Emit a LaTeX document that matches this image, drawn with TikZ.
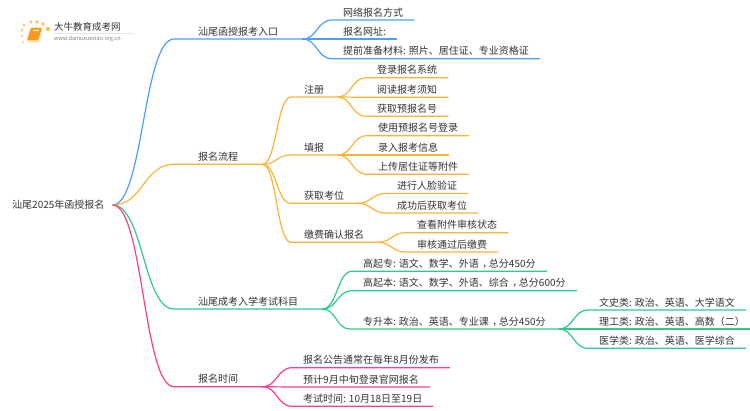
\documentclass[tikz,border=0pt]{standalone}
\usepackage{fontspec}
\setmainfont{Noto Sans CJK SC}
\usepackage{xcolor}
\usetikzlibrary{calc}
\definecolor{entryblue}{HTML}{4A9FFF}
\definecolor{flowamber}{HTML}{FBB437}
\definecolor{examgreen}{HTML}{2FCB8B}
\definecolor{timepink}{HTML}{FF3D92}
\definecolor{logoorange}{HTML}{F79A1E}
\definecolor{inkgrey}{HTML}{333333}
\newcommand{\cma}{\kern3.5pt，\kern-3.5pt}
\tikzset{
    rootbox/.style={anchor=west, inner xsep=8pt, inner ysep=1.7pt, text height=8pt, text depth=2pt, font=\fontsize{10}{12}\selectfont, text=inkgrey},
    topicbox/.style={rootbox, anchor=south west, inner xsep=24pt},
    branchbox/.style={topicbox, inner xsep=13pt},
    leafbox/.style={topicbox, inner xsep=11pt},
    link/.style={line width=1.2pt, to path={.. controls ($(\tikztostart)!0.5!(\tikztostart -| \tikztotarget)$) and ($(\tikztotarget)!0.5!(\tikztotarget -| \tikztostart)$) .. (\tikztotarget)}}
}
\begin{document}
\begin{tikzpicture}[x=1pt, y=-1pt]
    \useasboundingbox (0,0) rectangle (750,410);
    % logo
    \foreach \px/\py/\r in {23/42/1.0,22/36/1.1,22/30/1.3,24/25/1.4,31/22/1.7,37/22/1.8,43/24/1.9,48/29/2.2} {
        \fill [flowamber!85] (\px,\py) circle (\r);
    }
    \fill [logoorange, rounded corners=1pt] (31,27.5) -- (42,27.5) -- (38.5,40) -- (27,40) -- cycle;
    \fill [flowamber!50, rounded corners=.5pt] (27,40) -- (38.5,40) -- (42,27.5) -- (42.5,29) -- (39,42) -- (28,42) -- cycle;
    \draw [white, line width=.4pt] (32.5,30.5) -- (39,30.5);
    \draw [gray!20, line width=.5pt] (54,33.5) -- (133,33.5);
    \node [anchor=west, inner sep=0pt, font=\fontsize{9.5}{11}\selectfont, text=inkgrey] (logoname) at (54,27) {大牛教育成考网};
    \node [anchor=west, inner sep=0pt, font=\fontsize{5.5}{6}\selectfont, text=gray] (logourl) at (54,38.5) {www.daniuxuexiao.org.cn};

    \node [rootbox] (root) at (4,205) {汕尾2025年函授报名};

    \node [topicbox] (entry) at (174,39) {汕尾函授报考入口};
    \node [leafbox] (online) at (332,20) {网络报名方式};
    \node [leafbox] (site) at (332,39) {报名网址:};
    \node [leafbox] (docs) at (332,58.7) {提前准备材料: 照片、居住证、专业资格证};

    \node [topicbox] (flow) at (174,164.3) {报名流程};
    \node [branchbox] (signup) at (291,97) {注册};
    \node [leafbox] (signupa) at (366,77.7) {登录报名系统};
    \node [leafbox] (signupb) at (366,97.3) {阅读报考须知};
    \node [leafbox] (signupc) at (366,116.3) {获取预报名号};
    \node [branchbox] (fill) at (291,155) {填报};
    \node [leafbox] (filla) at (367,135.7) {使用预报名号登录};
    \node [leafbox] (fillb) at (367,155) {录入报考信息};
    \node [leafbox] (fillc) at (367,174.3) {上传居住证等附件};
    \node [branchbox] (seat) at (291,203.3) {获取考位};
    \node [leafbox] (seata) at (386,193.5) {进行人脸验证};
    \node [leafbox] (seatb) at (386,213) {成功后获取考位};
    \node [branchbox] (pay) at (291,242.3) {缴费确认报名};
    \node [leafbox] (paya) at (406,232.7) {查看附件审核状态};
    \node [leafbox] (payb) at (406,252) {审核通过后缴费};

    \node [topicbox] (exam) at (174,309) {汕尾成考入学考试科目};
    \node [leafbox] (gqz) at (352,271.3) {高起专: 语文、数学、外语\cma 总分450分};
    \node [leafbox] (gqb) at (352,290.7) {高起本: 语文、数学、外语、综合\cma 总分600分};
    \node [branchbox] (zsb) at (350,329) {专升本: 政治、英语、专业课\cma 总分450分};
    \node [leafbox] (wen) at (588,310) {文史类: 政治、英语、大学语文};
    \node [leafbox] (li) at (588,329) {理工类: 政治、英语、高数（二）};
    \node [leafbox] (yi) at (588,348.3) {医学类: 政治、英语、医学综合};

    \node [topicbox] (time) at (174,386.7) {报名时间};
    \node [leafbox] (notice) at (292,367.7) {报名公告通常在每年8月份发布};
    \node [leafbox] (login) at (292,387) {预计9月中旬登录官网报名};
    \node [leafbox] (date) at (292,406.3) {考试时间: 10月18日至19日};

    \draw [link, entryblue] (root.east) to (entry.south west) -- (entry.south east);
    \draw [link, entryblue] (entry.south east) to (online.south west) -- (online.south east);
    \draw [link, entryblue] (entry.south east) to (site.south west) -- (site.south east);
    \draw [link, entryblue] (entry.south east) to (docs.south west) -- (docs.south east);

    \draw [link, flowamber] (root.east) to (flow.south west) -- (flow.south east);
    \draw [link, flowamber] (flow.south east) to (signup.south west) -- (signup.south east);
    \draw [link, flowamber] (signup.south east) to (signupa.south west) -- (signupa.south east);
    \draw [link, flowamber] (signup.south east) to (signupb.south west) -- (signupb.south east);
    \draw [link, flowamber] (signup.south east) to (signupc.south west) -- (signupc.south east);
    \draw [link, flowamber] (flow.south east) to (fill.south west) -- (fill.south east);
    \draw [link, flowamber] (fill.south east) to (filla.south west) -- (filla.south east);
    \draw [link, flowamber] (fill.south east) to (fillb.south west) -- (fillb.south east);
    \draw [link, flowamber] (fill.south east) to (fillc.south west) -- (fillc.south east);
    \draw [link, flowamber] (flow.south east) to (seat.south west) -- (seat.south east);
    \draw [link, flowamber] (seat.south east) to (seata.south west) -- (seata.south east);
    \draw [link, flowamber] (seat.south east) to (seatb.south west) -- (seatb.south east);
    \draw [link, flowamber] (flow.south east) to (pay.south west) -- (pay.south east);
    \draw [link, flowamber] (pay.south east) to (paya.south west) -- (paya.south east);
    \draw [link, flowamber] (pay.south east) to (payb.south west) -- (payb.south east);

    \draw [link, examgreen] (root.east) to (exam.south west) -- (exam.south east);
    \draw [link, examgreen] (exam.south east) to (gqz.south west) -- (gqz.south east);
    \draw [link, examgreen] (exam.south east) to (gqb.south west) -- (gqb.south east);
    \draw [link, examgreen] (exam.south east) to (zsb.south west) -- (zsb.south east);
    \draw [link, examgreen] (zsb.south east) to (wen.south west) -- (wen.south east);
    \draw [link, examgreen] (zsb.south east) to (li.south west) -- (li.south east);
    \draw [link, examgreen] (zsb.south east) to (yi.south west) -- (yi.south east);

    \draw [link, timepink] (root.east) to (time.south west) -- (time.south east);
    \draw [link, timepink] (time.south east) to (notice.south west) -- (notice.south east);
    \draw [link, timepink] (time.south east) to (login.south west) -- (login.south east);
    \draw [link, timepink] (time.south east) to (date.south west) -- (date.south east);
\end{tikzpicture}
\end{document}
